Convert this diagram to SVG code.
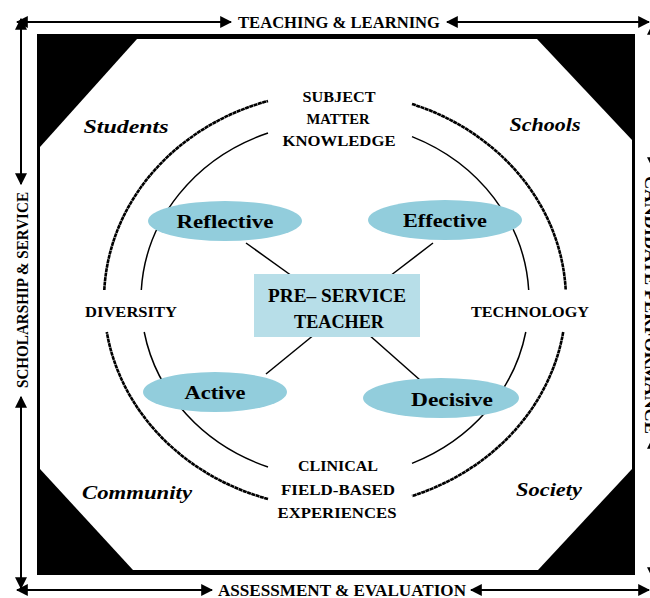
<svg xmlns="http://www.w3.org/2000/svg" width="650" height="598" viewBox="0 0 650 598">
  <defs>
    <marker id="ah" viewBox="0 0 10 10" refX="9" refY="5" markerWidth="12" markerHeight="12" markerUnits="userSpaceOnUse" orient="auto-start-reverse">
      <path d="M0,0 L10,5 L0,10 z" fill="#000"/>
    </marker>
    <style>
      .lbl { font-family: "Liberation Serif", "DejaVu Serif", serif; font-weight: bold; fill: #000; }
      .edge { font-size: 16px; }
      .theme { font-size: 15px; }
      .corner { font-size: 19px; font-style: italic; }
      .oval { font-size: 18px; }
      .core { font-size: 19px; }
      .arrow { stroke: #000; stroke-width: 2; fill: none; marker-start: url(#ah); marker-end: url(#ah); }
      .ring-outer { stroke: #000; stroke-width: 2.6; fill: none; stroke-dasharray: 4 0.5; }
      .ring-inner { stroke: #000; stroke-width: 1.5; fill: none; }
      .spoke { stroke: #000; stroke-width: 1.5; }
      .oval-shape { fill: #92CDDC; }
    </style>
  </defs>

  <rect width="650" height="598" fill="#fff"/>

  <!-- framing octagon with black corners -->
  <g id="frame">
    <rect x="37" y="34" width="598" height="541" fill="#000"/>
    <polygon points="137,39 537,39 632,140 632,469 538,570 133,570 40,469 40,147" fill="#fff"/>
  </g>

  <!-- outer double-headed arrows and their labels -->
  <g id="border-arrows">
    <line class="arrow" x1="17" y1="22" x2="231" y2="22"/>
    <line class="arrow" x1="447" y1="22" x2="649" y2="22"/>
    <line class="arrow" x1="17" y1="590" x2="212" y2="590"/>
    <line class="arrow" x1="471" y1="590" x2="649" y2="590"/>
    <line class="arrow" x1="21" y1="19" x2="21" y2="184"/>
    <line class="arrow" x1="21" y1="397" x2="21" y2="588"/>
    <line class="arrow" x1="653" y1="24" x2="653" y2="168"/>
    <line class="arrow" x1="653" y1="438" x2="653" y2="578"/>
  </g>
  <g id="label-teaching"><text class="lbl edge" x="339" y="28" text-anchor="middle" textLength="202" lengthAdjust="spacingAndGlyphs">TEACHING &amp; LEARNING</text></g>
  <g id="label-assessment"><text class="lbl edge" x="342" y="596" text-anchor="middle" textLength="248" lengthAdjust="spacingAndGlyphs">ASSESSMENT &amp; EVALUATION</text></g>
  <g id="label-scholarship"><text class="lbl edge" transform="translate(28,290) rotate(-90)" text-anchor="middle" textLength="196" lengthAdjust="spacingAndGlyphs">SCHOLARSHIP &amp; SERVICE</text></g>
  <g id="label-candidate"><text class="lbl edge" transform="translate(645,305) rotate(90)" text-anchor="middle" textLength="258" lengthAdjust="spacingAndGlyphs">CANDIDATE PERFORMANCE</text></g>

  <!-- concentric rings -->
  <g id="rings">
    <path class="ring-outer" d="M104.3,290 A231,208 0 0 1 268,101"/>
    <path class="ring-outer" d="M412,104 A231,208 0 0 1 565.7,290"/>
    <path class="ring-outer" d="M563.2,332 A231,208 0 0 1 412,496"/>
    <path class="ring-outer" d="M268,499 A231,208 0 0 1 106.8,332"/>
    <path class="ring-inner" d="M141.3,290 A194,178 0 0 1 268,133"/>
    <path class="ring-inner" d="M412,136.6 A194,178 0 0 1 528.7,290"/>
    <path class="ring-inner" d="M525.8,332 A194,178 0 0 1 412,463.4"/>
    <path class="ring-inner" d="M268,467 A194,178 0 0 1 144.2,332"/>
  </g>

  <!-- connectors from the centre to the four qualities -->
  <g id="connectors">
    <line class="spoke" x1="246" y1="243" x2="292" y2="276"/>
    <line class="spoke" x1="433" y1="243" x2="390" y2="276"/>
    <line class="spoke" x1="266" y1="374" x2="315" y2="334"/>
    <line class="spoke" x1="420" y1="380" x2="368" y2="334"/>
  </g>

  <g id="node-reflective">
    <ellipse class="oval-shape" cx="225" cy="221" rx="77" ry="20"/>
    <text class="lbl oval" x="225" y="228" text-anchor="middle" textLength="97" lengthAdjust="spacingAndGlyphs">Reflective</text>
  </g>
  <g id="node-effective">
    <ellipse class="oval-shape" cx="445" cy="220" rx="77" ry="20"/>
    <text class="lbl oval" x="445" y="227" text-anchor="middle" textLength="84" lengthAdjust="spacingAndGlyphs">Effective</text>
  </g>
  <g id="node-active">
    <ellipse class="oval-shape" cx="215" cy="392" rx="72" ry="20"/>
    <text class="lbl oval" x="215" y="399" text-anchor="middle" textLength="61" lengthAdjust="spacingAndGlyphs">Active</text>
  </g>
  <g id="node-decisive">
    <ellipse class="oval-shape" cx="441" cy="398" rx="78" ry="20"/>
    <text class="lbl oval" x="452" y="406" text-anchor="middle" textLength="82" lengthAdjust="spacingAndGlyphs">Decisive</text>
  </g>

  <g id="node-preservice">
    <rect x="254" y="274" width="166" height="63" fill="#B7DEE8"/>
    <text class="lbl core" x="337" y="302" text-anchor="middle" textLength="138" lengthAdjust="spacingAndGlyphs">PRE– SERVICE</text>
    <text class="lbl core" x="339" y="328" text-anchor="middle" textLength="90" lengthAdjust="spacingAndGlyphs">TEACHER</text>
  </g>

  <g id="node-subject">
    <text class="lbl theme" x="339" y="102" text-anchor="middle" textLength="73" lengthAdjust="spacingAndGlyphs">SUBJECT</text>
    <text class="lbl theme" x="338" y="124" text-anchor="middle" textLength="63" lengthAdjust="spacingAndGlyphs">MATTER</text>
    <text class="lbl theme" x="339" y="146" text-anchor="middle" textLength="113" lengthAdjust="spacingAndGlyphs">KNOWLEDGE</text>
  </g>
  <g id="node-clinical">
    <text class="lbl theme" x="338" y="471" text-anchor="middle" textLength="80" lengthAdjust="spacingAndGlyphs">CLINICAL</text>
    <text class="lbl theme" x="338" y="495" text-anchor="middle" textLength="114" lengthAdjust="spacingAndGlyphs">FIELD-BASED</text>
    <text class="lbl theme" x="337" y="518" text-anchor="middle" textLength="119" lengthAdjust="spacingAndGlyphs">EXPERIENCES</text>
  </g>
  <g id="node-diversity"><text class="lbl theme" x="131" y="317" text-anchor="middle" textLength="92" lengthAdjust="spacingAndGlyphs">DIVERSITY</text></g>
  <g id="node-technology"><text class="lbl theme" x="530" y="317" text-anchor="middle" textLength="118" lengthAdjust="spacingAndGlyphs">TECHNOLOGY</text></g>

  <g id="node-students"><text class="lbl corner" x="126" y="133" text-anchor="middle" textLength="85" lengthAdjust="spacingAndGlyphs">Students</text></g>
  <g id="node-schools"><text class="lbl corner" x="545" y="131" text-anchor="middle" textLength="71" lengthAdjust="spacingAndGlyphs">Schools</text></g>
  <g id="node-community"><text class="lbl corner" x="137" y="499" text-anchor="middle" textLength="110" lengthAdjust="spacingAndGlyphs">Community</text></g>
  <g id="node-society"><text class="lbl corner" x="549" y="496" text-anchor="middle" textLength="66" lengthAdjust="spacingAndGlyphs">Society</text></g>
</svg>
